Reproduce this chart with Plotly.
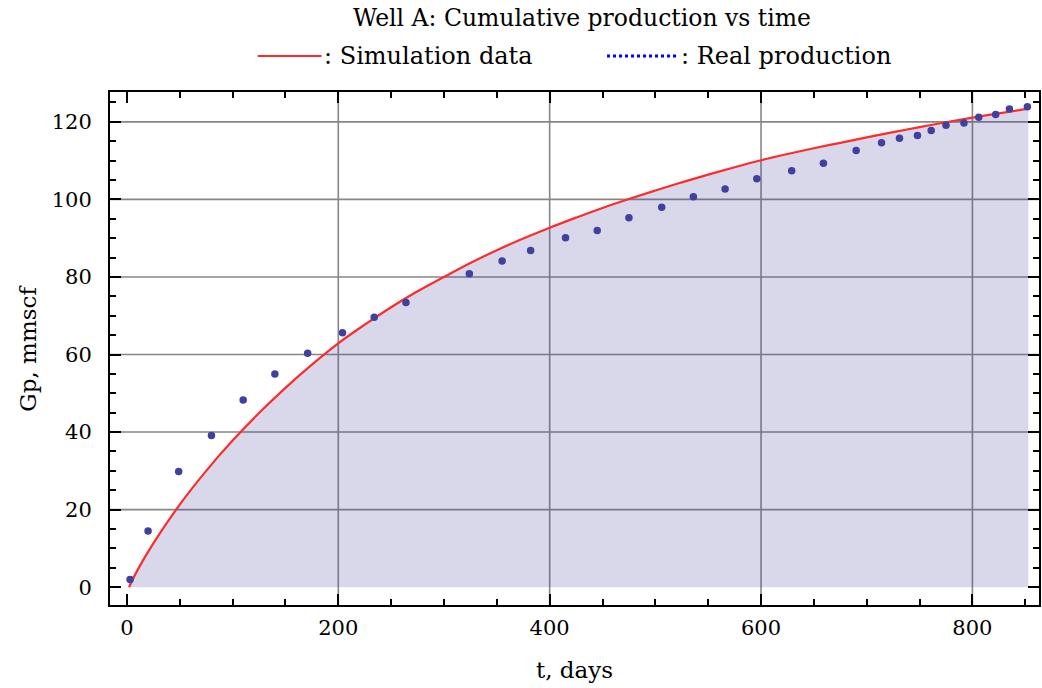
import plotly.graph_objects as go

# Simulated cumulative production (days, MMscf)
sim_t = [2, 10, 25, 50, 75, 100, 125, 150, 175, 200, 225, 250, 275, 300, 325,
         350, 375, 400, 425, 450, 475, 500, 525, 550, 575, 600, 625, 650, 675,
         700, 725, 750, 775, 800, 825, 853]
sim_q = [0.0, 4.4, 11.3, 21.3, 30.0, 37.8, 44.9, 51.4, 57.4, 62.9, 67.7, 72.2,
         76.3, 80.0, 83.6, 86.9, 89.9, 92.7, 95.3, 97.8, 100.1, 102.3, 104.4,
         106.4, 108.3, 110.1, 111.7, 113.2, 114.6, 116.0, 117.35, 118.65, 119.9,
         121.1, 122.2, 123.4]

# Measured cumulative production (days, MMscf)
real_t = [3, 20, 49, 80, 110, 140, 171, 204, 234, 264, 324, 355, 382, 415, 445,
          475, 506, 536, 566, 596, 629, 659, 690, 714, 731, 748, 761, 775, 792,
          806, 822, 835, 852]
real_q = [2.0, 14.5, 29.8, 39.1, 48.3, 55.0, 60.3, 65.6, 69.6, 73.4, 80.8, 84.1,
          86.8, 90.1, 92.0, 95.3, 98.0, 100.7, 102.7, 105.3, 107.4, 109.3, 112.6,
          114.6, 115.8, 116.5, 117.8, 119.1, 119.7, 121.2, 121.9, 123.3, 123.9]

x_ticks = [0, 200, 400, 600, 800]
y_ticks = [0, 20, 40, 60, 80, 100, 120]
grid_x = [200, 400, 600, 800]
grid_y = [20, 40, 60, 80, 100, 120]

X_RANGE = [-16, 863]
Y_RANGE = [-4.6, 127.7]

FONT = "DejaVu Serif"
RED = "#ff2b2b"
DOT = "#40409e"

fig = go.Figure()

fig.add_trace(go.Scatter(
    x=sim_t, y=sim_q, mode="lines",
    line=dict(color=RED, width=2.2, shape="spline", smoothing=1.0),
    fill="tozeroy", fillcolor="rgba(60,60,150,0.2)",
    showlegend=False, hoverinfo="skip",
))
fig.add_trace(go.Scatter(
    x=real_t, y=real_q, mode="markers",
    marker=dict(color=DOT, size=7.5, line=dict(width=0)),
    showlegend=False, hoverinfo="skip",
))

shapes = []
for gx in grid_x:
    shapes.append(dict(type="line", xref="x", yref="paper", x0=gx, x1=gx, y0=0, y1=1,
                       line=dict(color="#868686", width=1.6), layer="between"))
for gy in grid_y:
    shapes.append(dict(type="line", xref="paper", yref="y", x0=0, x1=1, y0=gy, y1=gy,
                       line=dict(color="#868686", width=1.6), layer="between"))

# Legend keys drawn by hand above the frame
shapes.append(dict(type="line", xref="paper", yref="paper", x0=0.159, x1=0.2277,
                   y0=1.0702, y1=1.0702, line=dict(color=RED, width=2.2)))
shapes.append(dict(type="line", xref="paper", yref="paper", x0=0.535, x1=0.612,
                   y0=1.0702, y1=1.0702, line=dict(color="#0000ff", width=3, dash="dot")))

annotations = [
    dict(text=": Simulation data", xref="paper", yref="paper", x=0.2277, y=1.0702,
         xanchor="left", yanchor="middle", showarrow=False,
         font=dict(family=FONT, size=24, color="black")),
    dict(text=": Real production", xref="paper", yref="paper", x=0.612, y=1.0702,
         xanchor="left", yanchor="middle", showarrow=False,
         font=dict(family=FONT, size=24, color="black")),
    dict(text="t, days", xref="paper", yref="paper", x=0.5, y=-0.1267,
         xanchor="center", yanchor="middle", showarrow=False,
         font=dict(family=FONT, size=23, color="black")),
    dict(text="Gp, mmscf", xref="paper", yref="paper", x=-0.0892, y=0.5,
         xanchor="center", yanchor="middle", showarrow=False, textangle=-90,
         font=dict(family=FONT, size=23, color="black")),
]

axis_common = dict(
    showgrid=False, zeroline=False, showline=True, linecolor="black", linewidth=2,
    mirror="allticks", ticks="inside", ticklen=11, tickwidth=1.6, tickcolor="black",
    tickfont=dict(family=FONT, size=21, color="black"),
)

fig.update_layout(
    width=1042, height=688,
    margin=dict(l=110, r=1, t=92, b=83),
    paper_bgcolor="white", plot_bgcolor="white",
    title=dict(text="Well A: Cumulative production vs time", x=0.5585, y=0.974,
               xref="container", yref="container", xanchor="center", yanchor="middle",
               font=dict(family=FONT, size=23.5, color="black")),
    xaxis=dict(range=X_RANGE, tickvals=x_ticks, ticklabelstandoff=3,
               minor=dict(dtick=50, tick0=0, ticks="inside", ticklen=6,
                          tickwidth=1.6, tickcolor="black", showgrid=False),
               **axis_common),
    yaxis=dict(range=Y_RANGE, tickvals=y_ticks, ticklabelstandoff=12,
               minor=dict(dtick=5, tick0=0, ticks="inside", ticklen=6,
                          tickwidth=1.6, tickcolor="black", showgrid=False),
               **axis_common),
    shapes=shapes,
    annotations=annotations,
    showlegend=False,
)

fig.write_html("out.html")
